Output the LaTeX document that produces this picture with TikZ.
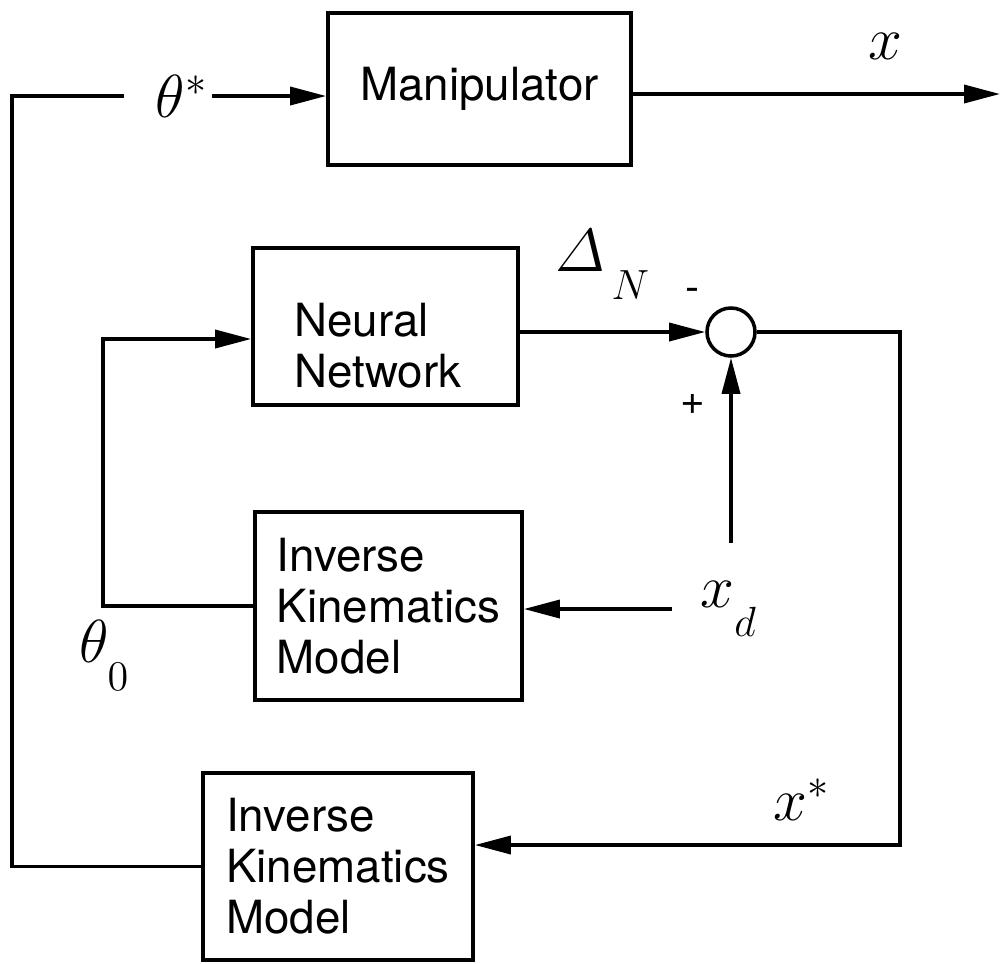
\documentclass[tikz,border=0pt]{standalone}
\usepackage{fontspec}
\setmainfont{TeX Gyre Heros}
\usetikzlibrary{arrows.meta}
\newcommand{\lowsub}[3][0.6ex]{#2_{\lower#1\hbox{$\scriptstyle #3$}}}

\begin{document}
\begin{tikzpicture}[x=0.01cm, y=-0.01cm,
  block/.style={draw, line width=1pt, align=left, inner sep=0pt,
                font=\fontsize{13}{14.5}\selectfont},
  boxtext/.style={align=left, inner sep=0pt, font=\fontsize{13}{14.5}\selectfont},
  arrow/.style={-{Triangle[length=3.6mm,width=1.8mm]}, line width=1pt},
  wire/.style={line width=1pt},
  lbl/.style={font=\LARGE, inner sep=1pt}
]
  \useasboundingbox (0,0) rectangle (1001,963);

  \node[block, minimum width=3.03cm, minimum height=1.52cm] (manip) at (479.5,89)  {Manipulator};
  \node[block, minimum width=2.65cm, minimum height=1.57cm] (nn)    at (385.5,326.5) {};
  \node[boxtext] (nntxt) at (378,346) {Neural\\Network};
  \node[block, minimum width=2.67cm, minimum height=1.88cm] (ik1)   at (388.5,606) {Inverse\\Kinematics\\Model};
  \node[block, minimum width=2.70cm, minimum height=1.87cm] (ik2)   at (338,866.5) {Inverse\\Kinematics\\Model};
  \node[draw, circle, line width=1pt, minimum size=0.48cm, inner sep=0pt] (sum) at (731,332) {};

  \node[lbl] (tstar) at (182,96)  {$\theta^*$};
  \node[lbl] (xlab)  at (885,46)  {$x$};
  \node[lbl] (dn)    at (603,265) {$\lowsub{\mathnormal{\Delta}}{\,N}$};
  \node[font=\large] (minus) at (693,295) {-};
  \node[font=\large] (plus)  at (693,404) {+};
  \node[lbl] (xd)    at (729,609) {$\lowsub{x}{d}$};
  \node[lbl] (t0)    at (105,655) {$\lowsub{\theta}{0}$};
  \node[lbl] (xstar) at (802,800) {$x^*$};

  \coordinate (lft)   at (12,96);
  \coordinate (xout)  at (1000,94);
  \coordinate (fb)    at (103,339);
  \coordinate (rgt)   at (900,845);
  \coordinate (xdtop) at (731,543);

  \draw[wire, shorten >=0.28cm] (ik2.west) -| (lft) -- (tstar.west);
  \draw[arrow] (tstar.east) -- (tstar.east -| manip.west);
  \draw[arrow] (manip.east |- xout) -- (xout);
  \draw[arrow] (sum.west -| nn.east) -- (sum.west);
  \draw[arrow] (sum.east) -| (rgt) -- (rgt -| ik2.east);
  \draw[arrow] (xdtop) -- (sum.south);
  \draw[arrow, shorten <=0.24cm] (xd.west) -- (xd.west -| ik1.east);
  \draw[arrow] (ik1.west) -| (fb) -- (fb -| nn.west);
\end{tikzpicture}
\end{document}
